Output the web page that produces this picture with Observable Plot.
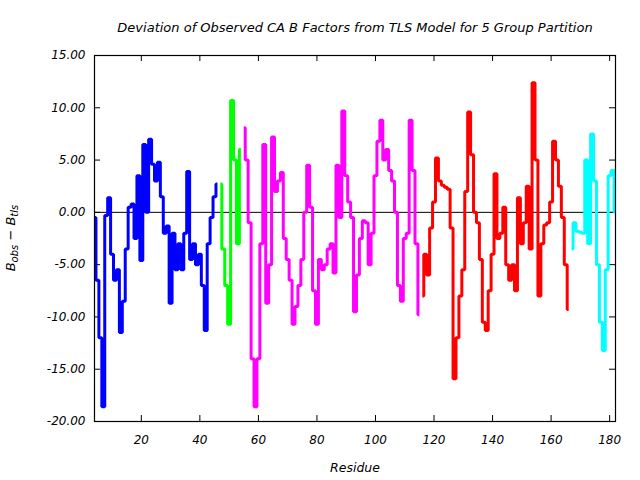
<!DOCTYPE html>
<html><head><meta charset="utf-8">
<script src="https://cdn.jsdelivr.net/npm/d3@7"></script>
<script src="https://cdn.jsdelivr.net/npm/@observablehq/plot@0.6"></script>
<style>
body{margin:0;background:#fff}
#chart svg{font-family:"DejaVu Sans",sans-serif;font-style:italic}
</style>
</head><body><div id="chart"></div>
<script>
const title = "Deviation of Observed CA B Factors from TLS Model for 5 Group Partition";
const xLabel = "Residue";
const xTicks = [20, 40, 60, 80, 100, 120, 140, 160, 180];
const yTicks = [-20, -15, -10, -5, 0, 5, 10, 15];

const groupNames = ["group1", "group2", "group3", "group4", "group5"];
const groupColors = ["#0000ff", "#00ff00", "#ff00ff", "#ff0000", "#00ffff"];
const groupStarts = [4, 47, 55, 116, 167];

const group1 = [-0.5, -6.5, -12.0, -18.6, -0.3, 1.4, -4.0, -6.5, -5.5, -11.5,
  -8.5, -3.5, 0.5, 0.8, -2.5, 3.5, -4.6, 6.5, 0.0, 7.0,
  4.6, 3.0, 4.8, 1.5, -2.0, -1.3, -8.7, -2.0, -5.5, -3.0,
  -5.5, -2.0, 3.9, -4.5, -3.0, -5.0, -4.0, -7.0, -11.3, -3.0,
  -0.5, 1.5, 2.7];
const group2 = [2.7, -3.5, -7.0, -10.7, 10.7, 5.0, -3.0, 6.0];
const group3 = [8.1, 5.0, -1.0, -14.0, -18.6, -14.0, -3.0, 6.5, -8.7, -5.0,
  7.2, 2.0, 3.0, 3.8, -2.5, -4.5, -6.5, -10.7, -9.0, -7.0,
  -4.5, 0.0, 4.5, 0.5, -7.5, -10.7, -4.5, -5.5, -5.0, -3.5,
  -3.0, -5.8, 4.5, -0.5, 9.7, 3.5, 1.0, -0.5, -9.5, -6.0,
  -2.5, -0.8, -1.0, -5.0, -2.0, 3.5, 6.8, 8.8, 5.0, 6.0,
  4.0, 3.0, 0.0, -7.0, -8.5, -2.5, -2.0, 8.8, 4.0, -3.0,
  -9.8];
const group4 = [-8.0, -4.0, -6.0, -1.5, 1.0, 5.2, 3.0, 2.6, 2.4, 2.2,
  -1.5, -15.9, -12.0, -8.0, -5.5, 2.0, 9.6, 5.5, 0.0, -1.0,
  -4.5, -10.5, -11.3, -7.5, -4.0, 3.7, -2.5, -2.0, 0.5, -5.0,
  -6.5, -5.0, -7.5, 1.4, -3.0, -1.0, 2.5, -3.5, 12.4, 5.0,
  -8.0, -3.0, -1.2, -1.0, 1.0, 6.8, 5.0, 2.5, -0.5, -5.0,
  -9.3];
const group5 = [-3.5, -1.0, -1.8, -1.9, -2.0, 5.0, -3.0, 7.5, 3.0, -5.0,
  -10.5, -13.2, -5.5, 3.5, 4.0, 0.0];

const groupValues = [group1, group2, group3, group4, group5];
const data = groupValues.flatMap((vals, g) =>
  vals.map((v, i) => ({residue: groupStarts[g] + i, dev: v, group: groupNames[g]})));

const W = 640, H = 480, mL = 94, mR = 25, mT = 55, mB = 59;
const fw = W - mL - mR, fh = H - mT - mB, tk = 6;

const plot = Plot.plot({
  width: W, height: H,
  marginLeft: mL, marginRight: mR, marginTop: mT, marginBottom: mB,
  style: {background: "white", color: "black", fontSize: "12px"},
  x: {domain: [4, 182]},
  y: {domain: [-20, 15]},
  color: {domain: groupNames, range: groupColors},
  marks: [
    Plot.axisX(xTicks, {anchor: "bottom", tickSize: 0, tickPadding: 14, label: null, fontSize: 12, tickFormat: d => String(d)}),
    Plot.axisY(yTicks, {anchor: "left", tickSize: 0, tickPadding: 9, label: null, fontSize: 12, tickFormat: d => d.toFixed(2)}),
    Plot.tickX(xTicks, {x: d => d, insetBottom: fh - tk, stroke: "black"}),
    Plot.tickX(xTicks, {x: d => d, insetTop: fh - tk, stroke: "black"}),
    Plot.tickY(yTicks, {y: d => d, insetRight: fw - tk, stroke: "black"}),
    Plot.tickY(yTicks, {y: d => d, insetLeft: fw - tk, stroke: "black"}),
    Plot.ruleY([0], {stroke: "black", strokeWidth: 1}),
    Plot.line(data, {x: "residue", y: "dev", z: "group", stroke: "group", curve: "step", strokeWidth: 3, strokeLinejoin: "miter", strokeLinecap: "butt"}),
    Plot.frame({stroke: "black", strokeWidth: 1.2}),
    Plot.text([title], {frameAnchor: "top", lineAnchor: "middle", dy: -28, fontSize: 13, fill: "black"}),
    Plot.text([xLabel], {frameAnchor: "bottom", lineAnchor: "middle", dy: 46, fontSize: 12.5, fill: "black"})
  ]
});
document.getElementById("chart").appendChild(plot);

// y-axis label with subscripts
const svg = d3.select(plot);
const yl = svg.append("text")
  .attr("transform", `translate(15,${mT + fh / 2}) rotate(-90)`)
  .attr("text-anchor", "middle")
  .attr("font-size", 13)
  .attr("fill", "black");
yl.append("tspan").text("B");
yl.append("tspan").attr("font-size", 10).attr("dy", 3).text("obs");
yl.append("tspan").attr("dy", -3).text(" \u2212 B");
yl.append("tspan").attr("font-size", 10).attr("dy", 3).text("tls");
</script>
</body></html>
